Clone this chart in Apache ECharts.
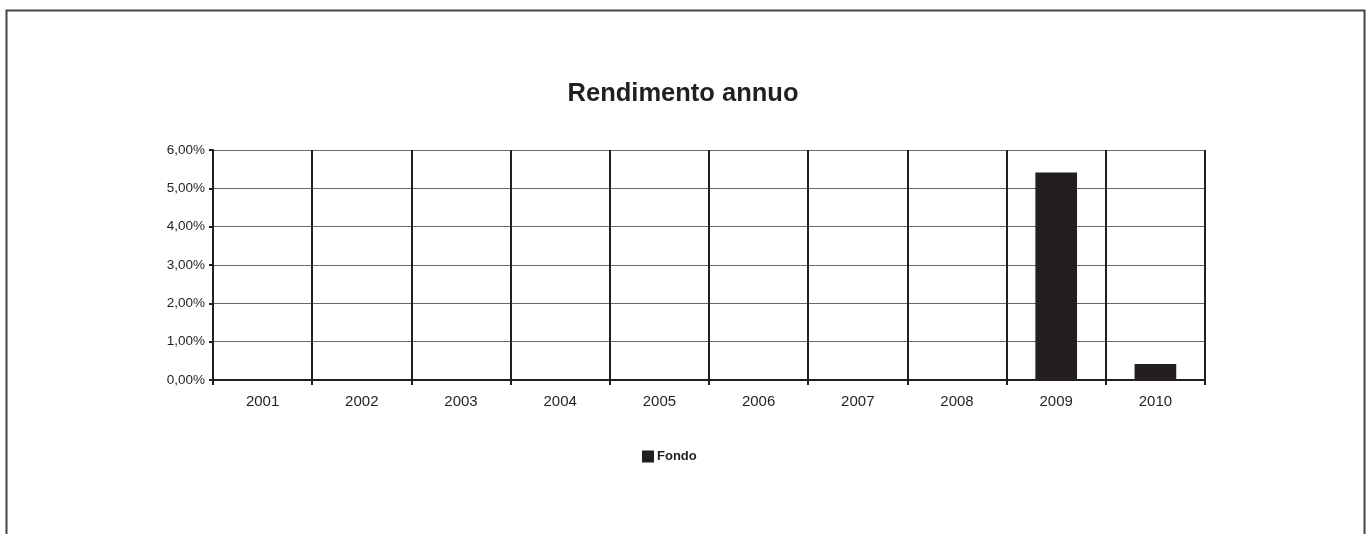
<!DOCTYPE html>
<html>
<head>
<meta charset="utf-8">
<script src="https://cdn.jsdelivr.net/npm/echarts@6/dist/echarts.min.js"></script>
<style>
html,body{margin:0;padding:0;background:#fff;}
#chart{width:1372px;height:534px;}
</style>
</head>
<body>
<div id="chart"></div>
<script>
const categories = ['2001','2002','2003','2004','2005','2006','2007','2008','2009','2010'];
const fondoValues = [0, 0, 0, 0, 0, 0, 0, 0, 5.41, 0.42];
const seriesName = 'Fondo';
const titleText = 'Rendimento annuo';

const chart = echarts.init(document.getElementById('chart'), null, {renderer: 'canvas'});
const font = '"Liberation Sans", Arial, sans-serif';
chart.setOption({
  animation: false,
  backgroundColor: '#fff',
  title: {
    text: titleText,
    left: 678,
    textAlign: 'center',
    top: 76,
    textStyle: {fontFamily: font, fontSize: 25.5, fontWeight: 'bold', color: '#231f20'}
  },
  legend: {
    left: 637,
    top: 445,
    itemWidth: 12,
    itemHeight: 12,
    icon: 'rect',
    textStyle: {fontFamily: font, fontSize: 13, fontWeight: 'bold', color: '#231f20', padding: [0, 0, 0, -2]},
    data: [seriesName]
  },
  grid: {left: 213, right: 167, top: 150, bottom: 154, containLabel: false},
  xAxis: {
    type: 'category',
    data: categories,
    boundaryGap: true,
    axisLine: {show: true, lineStyle: {color: '#231f20', width: 2}},
    axisTick: {show: true, alignWithLabel: false, length: 5, lineStyle: {color: '#231f20', width: 2}},
    splitLine: {show: true, lineStyle: {color: '#231f20', width: 2}},
    axisLabel: {fontFamily: font, fontSize: 15, color: '#231f20', margin: 14}
  },
  yAxis: {
    type: 'value',
    min: 0,
    max: 6,
    interval: 1,
    axisLine: {show: true, lineStyle: {color: '#231f20', width: 2}},
    axisTick: {show: true, inside: false, length: 4, lineStyle: {color: '#231f20', width: 2}},
    splitLine: {show: true, lineStyle: {color: '#666', width: 1.2}},
    axisLabel: {
      fontFamily: font, fontSize: 13.5, color: '#231f20', margin: 8,
      formatter: v => v.toFixed(2).replace('.', ',') + '%'
    }
  },
  series: [{
    name: seriesName,
    type: 'bar',
    data: fondoValues,
    barWidth: '42%',
    itemStyle: {color: '#231f20'}
  }],
  graphic: [{
    type: 'rect',
    shape: {x: 6.5, y: 10.5, width: 1358, height: 700},
    style: {fill: 'none', stroke: '#444', lineWidth: 2},
    silent: true
  }]
});
</script>
</body>
</html>
